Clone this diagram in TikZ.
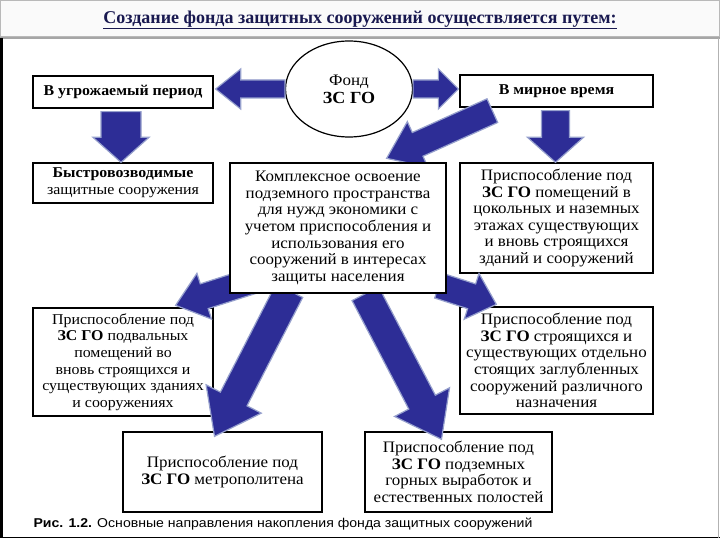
\documentclass[tikz,border=0pt]{standalone}
\usepackage{fontspec}
\setmainfont{Liberation Serif}
\newfontfamily\boxfont{Liberation Serif}[FakeStretch=1.06]
\newfontfamily\capfont{Liberation Sans}[FakeStretch=1.1]
\usetikzlibrary{calc,shapes.geometric}
\definecolor{arrfill}{RGB}{45,45,150}
\definecolor{arredge}{RGB}{150,160,205}
\definecolor{titlecol}{RGB}{25,25,80}
\pgfdeclarelayer{top}
\pgfsetlayers{main,top}
\tikzset{
 box/.style={draw=black, line width=1.3pt, fill=white, align=center, inner sep=0pt,
   font=\boxfont\fontsize{16}{16.6}\selectfont},
 smallbox/.style={box, font=\boxfont\fontsize{15}{16.6}\selectfont},
 boldbox/.style={box, font=\boxfont\fontsize{15}{16}\selectfont\bfseries},
 barr/.style={fill=arrfill, draw=arredge, line width=1.2pt, line join=miter},
}
\newcommand\barrow[5]{%
 \filldraw[barr] let \p1=#1, \p2=#2, \n1={veclen(\x2-\x1,\y2-\y1)},
   \n2={(\x2-\x1)/\n1}, \n3={(\y2-\y1)/\n1}, \n4={#3/2}, \n5={#4/2}, \n6={#5} in
   ({\x1-(\n3)*\n4},{\y1+(\n2)*\n4})
   -- ({\x2-(\n2)*\n6-(\n3)*\n4},{\y2-(\n3)*\n6+(\n2)*\n4})
   -- ({\x2-(\n2)*\n6-(\n3)*\n5},{\y2-(\n3)*\n6+(\n2)*\n5})
   -- (\p2)
   -- ({\x2-(\n2)*\n6+(\n3)*\n5},{\y2-(\n3)*\n6-(\n2)*\n5})
   -- ({\x2-(\n2)*\n6+(\n3)*\n4},{\y2-(\n3)*\n6-(\n2)*\n4})
   -- ({\x1+(\n3)*\n4},{\y1-(\n2)*\n4}) -- cycle;}
\begin{document}
\begin{tikzpicture}[x=1pt,y=-1pt]
\useasboundingbox (0,0) rectangle (720,540);
% frame
\fill[white] (0,0) rectangle (720,540);
\fill[gray!4] (0,0) rectangle (720,37);
\draw[gray!55, line width=1pt] (0.5,0.5) rectangle (719.5,37);
\draw[gray!70, line width=2pt] (0,38) -- (720,38);
\draw[black, line width=2.5pt] (1.5,38) -- (1.5,538);
\draw[black, line width=1.5pt] (0,537.5) -- (720,537.5);
\draw[gray!60, line width=1pt] (718,38) -- (718,538);
\node[font=\fontsize{18}{20}\selectfont\bfseries, text=titlecol] (title) at (360,20)
  {\underline{Создание фонда защитных сооружений осуществляется путем:}};
% nodes
\node[ellipse, draw=black, line width=1.2pt, fill=white, minimum width=127, minimum height=96,
  inner sep=0pt, align=center, font=\boxfont\fontsize{16}{18}\selectfont] (fond) at (349,89)
  {Фонд\\\textbf{\fontsize{17}{18}\selectfont ЗС ГО}};
\node[boldbox, minimum width=180, minimum height=32] (threat) at (123,92) {В угрожаемый период};
\node[boldbox, minimum width=193, minimum height=32] (peace) at (556.5,91) {В мирное время};
\node[smallbox, minimum width=180, minimum height=40] (quick) at (123,183)
  {\textbf{Быстровозводимые}\\защитные сооружения};
\begin{pgfonlayer}{top}
\node[box, minimum width=216, minimum height=130] (complex) at (338,228)
  {Комплексное освоение\\подземного пространства\\для нужд экономики с\\учетом приспособления и\\использования его\\сооружений в интересах\\защиты населения};
\end{pgfonlayer}
\node[box, minimum width=193, minimum height=110] (rooms) at (556.5,218)
  {Приспособление под\\\textbf{ЗС ГО} помещений в\\цокольных и наземных\\этажах существующих\\и вновь строящихся\\зданий и сооружений};
\node[smallbox, minimum width=180, minimum height=108] (basement) at (123,362)
  {Приспособление под\\\textbf{ЗС ГО} подвальных\\помещений во\\вновь строящихся и\\существующих зданиях\\и сооружениях};
\node[box, minimum width=193, minimum height=107] (separate) at (556.5,360.5)
  {Приспособление под\\\textbf{ЗС ГО} строящихся и\\существующих отдельно\\стоящих заглубленных\\сооружений различного\\назначения};
\node[box, minimum width=199, minimum height=80] (metro) at (222.5,472)
  {Приспособление под\\\textbf{ЗС ГО} метрополитена};
\node[box, minimum width=187, minimum height=80] (mines) at (458.5,472)
  {Приспособление под\\\textbf{ЗС ГО} подземных\\горных выработок и\\естественных полостей};
\node[anchor=west, font=\capfont\fontsize{12.8}{14}\selectfont] (caption) at (30,524)
  {\textbf{Рис. 1.2.} Основные направления накопления фонда защитных сооружений};
% block arrows
\barrow{(fond.west)}{($(threat.east |- fond.west)+(2,0)$)}{18}{40}{25}
\barrow{(fond.east)}{($(peace.west |- fond.east)+(-1,0)$)}{18}{40}{20}
\barrow{($(threat.south)+(-2,3)$)}{($(quick.north)+(-2,0)$)}{40}{56}{25}
\barrow{($(peace.south)+(-1,3)$)}{($(rooms.north)+(-1,0)$)}{28}{56}{25}
\barrow{($(peace.south west)+(33,3)$)}{($(complex.north east)+(-60,-4)$)}{26}{50}{34}
\barrow{($(complex.south west)+(30,-15)$)}{($(basement.north east)+(-38,-2)$)}{26}{48}{30}
\barrow{($(complex.south west)+(60,-3)$)}{($(metro.north)+(-8,5)$)}{30}{62}{42}
\barrow{($(complex.south east)+(-8,-8)$)}{($(separate.north west)+(37,-2)$)}{26}{48}{26}
\barrow{($(complex.south west)+(136,0)$)}{($(mines.north)+(-17,8)$)}{30}{62}{42}
\end{tikzpicture}
\end{document}
